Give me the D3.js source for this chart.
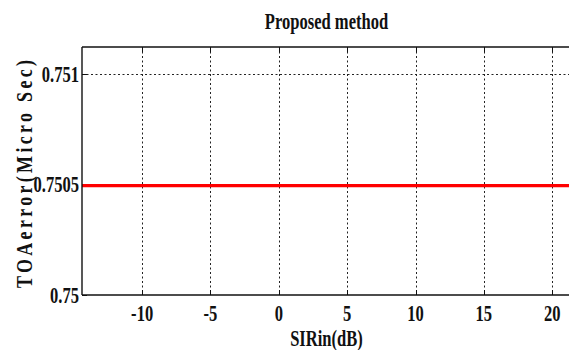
<!DOCTYPE html>
<html>
<head>
<meta charset="utf-8">
<script src="https://cdn.jsdelivr.net/npm/d3@7"></script>
<style>
  html, body { margin: 0; padding: 0; background: #fff; }
  svg { display: block; }
  text { font-family: "Liberation Serif", "Times New Roman", serif; font-weight: bold; fill: #111; }
</style>
</head>
<body>
<script>
// SIR sweep (dB) and the TOA error of the proposed method (microseconds)
const sirDb = [-15, -10, -5, 0, 5, 10, 15, 20, 25];
const toaError = [0.750494, 0.750494, 0.750494, 0.750494, 0.750494, 0.750494, 0.750494, 0.750494, 0.750494];

const xTicks = [-10, -5, 0, 5, 10, 15, 20];
const yTicks = [0.75, 0.7505, 0.751];
const yTickLabels = ["0.75", "0.7505", "0.751"];

const titleText = "Proposed method";
const xLabelText = "SIRin(dB)";
const yLabelText = "TOAerror(Micro Sec)";

const W = 569, H = 350;
const plot = { left: 82, top: 47, right: 572, bottom: 295 };
const squeeze = 0.72;   // narrow bold serif look
const fs = 23;

const x = d3.scaleLinear().domain([-14.4, 21.45]).range([plot.left, plot.right]);
const y = d3.scaleLinear().domain([0.75, 0.75112]).range([plot.bottom, plot.top]);

const svg = d3.select("body").append("svg").attr("width", W).attr("height", H);

// condensed text helper
function label(px, py, str, anchor) {
  const g = svg.append("g").attr("transform", `translate(${px},${py}) scale(${squeeze},1)`);
  g.append("text").attr("text-anchor", anchor).attr("font-size", fs).text(str);
  return g;
}

svg.append("defs").append("clipPath").attr("id", "plotClip")
  .append("rect")
  .attr("x", plot.left).attr("y", plot.top)
  .attr("width", plot.right - plot.left).attr("height", plot.bottom - plot.top);

// dotted grid
const grid = svg.append("g").attr("stroke", "#222").attr("stroke-width", 1).attr("stroke-dasharray", "2,2.5");
grid.selectAll("line.vx").data(xTicks).join("line")
  .attr("x1", d => Math.round(x(d)) + 0.5).attr("x2", d => Math.round(x(d)) + 0.5)
  .attr("y1", plot.top).attr("y2", plot.bottom);
grid.selectAll("line.hy").data(yTicks.slice(1)).join("line")
  .attr("y1", d => Math.round(y(d)) + 0.5).attr("y2", d => Math.round(y(d)) + 0.5)
  .attr("x1", plot.left).attr("x2", plot.right);

// inward tick marks
const ticks = svg.append("g").attr("stroke", "#111").attr("stroke-width", 1);
xTicks.forEach(d => {
  const px = Math.round(x(d)) + 0.5;
  ticks.append("line").attr("x1", px).attr("x2", px).attr("y1", plot.bottom).attr("y2", plot.bottom - 5);
  ticks.append("line").attr("x1", px).attr("x2", px).attr("y1", plot.top).attr("y2", plot.top + 5);
});
yTicks.forEach(d => {
  const py = Math.round(y(d)) + 0.5;
  ticks.append("line").attr("x1", plot.left).attr("x2", plot.left + 5).attr("y1", py).attr("y2", py);
});

// data line
const line = d3.line().x((d, i) => x(sirDb[i])).y(d => y(d));
svg.append("path")
  .datum(toaError)
  .attr("clip-path", "url(#plotClip)")
  .attr("fill", "none")
  .attr("stroke", "#ff0000")
  .attr("stroke-width", 3.2)
  .attr("d", line);

// axes frame (left, bottom, top)
const frame = svg.append("g").attr("stroke", "#111").attr("stroke-width", 1.4).attr("fill", "none");
frame.append("line").attr("x1", plot.left).attr("x2", plot.left).attr("y1", plot.top).attr("y2", plot.bottom);
frame.append("line").attr("x1", plot.left).attr("x2", plot.right).attr("y1", plot.bottom).attr("y2", plot.bottom);
frame.append("line").attr("x1", plot.left).attr("x2", plot.right).attr("y1", plot.top).attr("y2", plot.top);

// tick labels
xTicks.forEach(d => label(x(d), 321, String(d), "middle"));
yTicks.forEach((d, i) => label(plot.left - 3, y(d) + 8, yTickLabels[i], "end"));

// titles
label((plot.left + W) / 2 + 1, 29, titleText, "middle");
label((plot.left + W) / 2 + 1, 346, xLabelText, "middle");

// y label: letter-spaced, glyphs widened across the axis
svg.append("text")
  .attr("transform", `translate(32,174) rotate(-90) scale(1,1.3)`)
  .attr("text-anchor", "middle")
  .attr("font-size", 18)
  .attr("textLength", 228)
  .attr("lengthAdjust", "spacing")
  .text(yLabelText);
</script>
</body>
</html>
